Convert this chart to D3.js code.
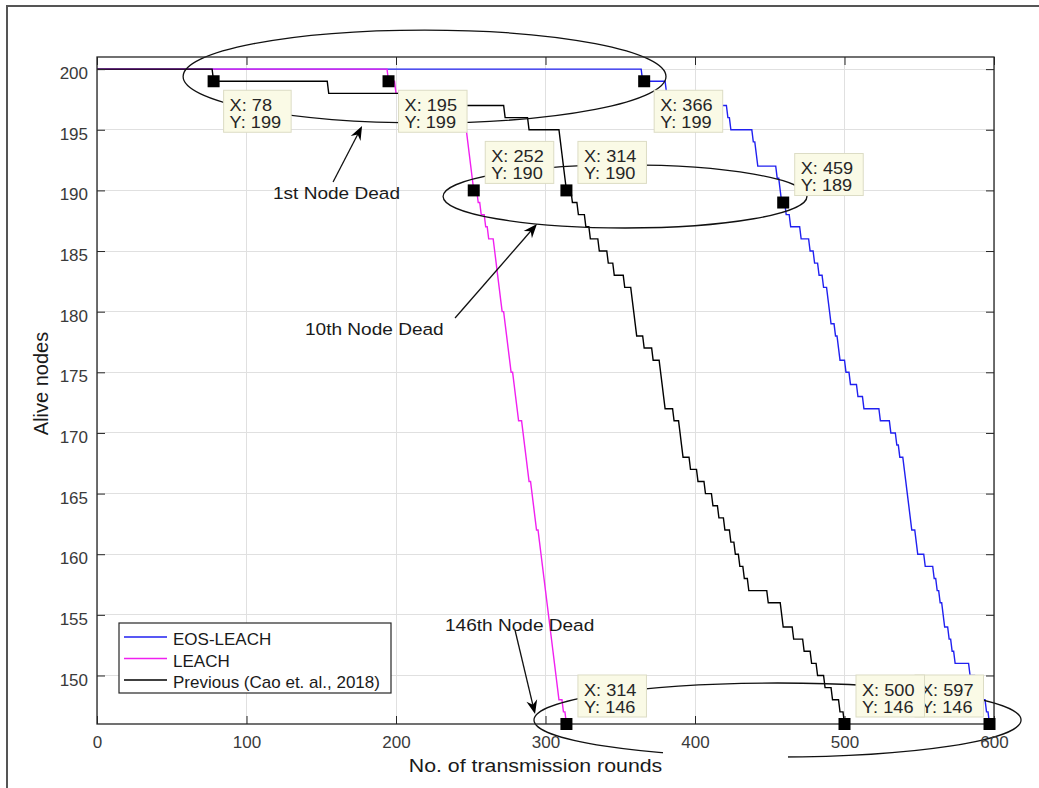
<!DOCTYPE html>
<html>
<head>
  <meta charset="utf-8">
  <title>Alive nodes</title>
  <script src="https://d3js.org/d3.v7.min.js"></script>
  <style>
    body { margin: 0; background: #fff; }
    svg { display: block; font-family: "Liberation Sans", Helvetica, Arial, sans-serif; }
    .grid line { stroke: #e0e0e0; stroke-width: 1; shape-rendering: crispEdges; }
    .axis path { display: none; }
    .axis line { stroke: #262626; stroke-width: 1; }
    .axis text { fill: #3a3a3a; font-size: 17px; }
    .series { fill: none; stroke-width: 1.4; }
    .note { fill: none; stroke: #111; stroke-width: 1.3; }
    .tip rect.box { fill: #fafae6; stroke: #dcdcc4; stroke-width: 1; }
    .tip text { fill: #262626; font-size: 15.8px; }
  </style>
</head>
<body>
<script>

// ---- data ----
var seriesNames = ["EOS-LEACH", "LEACH", "Previous (Cao et. al., 2018)"];
var seriesColors = ["#2020f0", "#f020f0", "#000000"];

// round at which the alive count changes, and the new count
var eosRounds = [0, 365, 381, 400, 422, 424, 439, 441, 442, 455,
                 457, 458, 461, 464, 471, 477, 480, 483, 486, 489,
                 490, 491, 494, 496, 497, 501, 504, 509, 513, 524,
                 531, 535, 537, 540, 541, 542, 543, 544, 545, 548,
                 549, 554, 560, 562, 564, 566, 567, 570, 572, 574,
                 584, 588, 592, 595, 597];
var leachRounds = [0, 195, 200, 220, 238, 246, 248, 249, 250, 251,
                   252, 255, 257, 260, 262, 266, 267, 268, 269, 270,
                   271, 273, 274, 275, 276, 277, 279, 280, 281, 282,
                   285, 286, 287, 288, 289, 291, 292, 293, 294, 296,
                   297, 298, 299, 300, 301, 302, 303, 304, 305, 306,
                   307, 308, 309, 312, 314];
var prevRounds = [0, 78, 155, 230, 273, 289, 310, 311, 312, 313,
                  314, 318, 322, 327, 330, 336, 342, 346, 353, 358,
                  359, 360, 361, 366, 372, 377, 378, 379, 380, 386,
                  390, 391, 392, 397, 402, 407, 412, 416, 420, 424,
                  427, 430, 433, 436, 449, 458, 459, 466, 473, 478,
                  482, 487, 492, 497, 500];
var aliveCounts = [200, 199, 198, 197, 196, 195, 194, 193, 192, 191,
                   190, 189, 188, 187, 186, 185, 184, 183, 182, 181,
                   180, 179, 178, 177, 176, 175, 174, 173, 172, 171,
                   170, 169, 168, 167, 166, 165, 164, 163, 162, 161,
                   160, 159, 158, 157, 156, 155, 154, 153, 152, 151,
                   150, 149, 148, 147, 146];

var xTicks = [0, 100, 200, 300, 400, 500, 600];
var yTicks = [150, 155, 160, 165, 170, 175, 180, 185, 190, 195, 200];

// data tips (drawn in this order; 597 goes under 500)
var tipX = [78, 195, 366, 252, 314, 459, 314, 597, 500];
var tipY = [199, 199, 199, 190, 190, 189, 146, 146, 146];
var tipSide = ["se", "se", "se", "ne", "ne", "ne", "ne", "nw", "ne"];

// annotations, in data units
var noteLabels = ["1st Node Dead", "10th Node Dead", "146th Node Dead"];
var noteLabelX = [160.2, 185.5, 282.7];
var noteLabelY = [189.25, 178.08, 153.67];
var arrowFrom = [[157.9, 190.69], [239.5, 179.48], [279.6, 153.75]];
var arrowTo = [[177.3, 195.31], [294.3, 187.23], [293.0, 146.82]];
var ellCx = [219.1, 353.2, 455.2];
var ellCy = [199.39, 189.5, 146.33];
var ellRx = [161.5, 121.7, 162.9];
var ellRy = [3.83, 2.6, 3.05];

// ---- layout ----
var W = 1039, H = 788;
var mL = 97, mR = 994, mT = 57, mB = 724;

var x = d3.scaleLinear().domain([0, 600]).range([mL, mR]);
var y = d3.scaleLinear().domain([146, 201]).range([mB, mT]);

var svg = d3.select("body").append("svg")
    .attr("width", W)
    .attr("height", H);

// figure frame (only top and left edge fall inside the picture)
svg.append("rect")
    .attr("x", 7).attr("y", 6)
    .attr("width", W).attr("height", H)
    .attr("fill", "none").attr("stroke", "#555").attr("stroke-width", 2);

// grid
var grid = svg.append("g").attr("class", "grid");
grid.selectAll(".gx").data(xTicks).enter().append("line")
    .attr("x1", function(d) { return x(d); }).attr("x2", function(d) { return x(d); })
    .attr("y1", mT).attr("y2", mB);
grid.selectAll(".gy").data(yTicks).enter().append("line")
    .attr("y1", function(d) { return y(d); }).attr("y2", function(d) { return y(d); })
    .attr("x1", mL).attr("x2", mR);

// per-round plot: count stays flat until the round before it changes
function roundPoints(rounds, alive) {
  var pts = [];
  rounds.forEach(function(r, i) {
    if (i > 0 && r - 1 > rounds[i - 1]) pts.push([r - 1, alive[i - 1]]);
    pts.push([r, alive[i]]);
  });
  return pts;
}

var line = d3.line()
    .x(function(d) { return x(d[0]); })
    .y(function(d) { return y(d[1]); });

var allRounds = [eosRounds, leachRounds, prevRounds];
allRounds.forEach(function(rounds, i) {
  svg.append("path")
      .attr("class", "series")
      .attr("stroke", seriesColors[i])
      .attr("d", line(roundPoints(rounds, aliveCounts)));
});

// ellipses
var notes = svg.append("g");
ellCx.forEach(function(cx, i) {
  notes.append("ellipse")
      .attr("class", "note")
      .attr("cx", x(cx))
      .attr("cy", y(ellCy[i]))
      .attr("rx", x(cx + ellRx[i]) - x(cx))
      .attr("ry", y(ellCy[i] - ellRy[i]) - y(ellCy[i]));
});

// arrows
arrowFrom.forEach(function(p, i) {
  var x1 = x(p[0]), y1 = y(p[1]), x2 = x(arrowTo[i][0]), y2 = y(arrowTo[i][1]);
  var ang = Math.atan2(y2 - y1, x2 - x1);
  notes.append("line")
      .attr("x1", x1).attr("y1", y1)
      .attr("x2", x2 - 9 * Math.cos(ang)).attr("y2", y2 - 9 * Math.sin(ang))
      .attr("stroke", "#111").attr("stroke-width", 1.3);
  notes.append("path")
      .attr("d", "M0,0L-14,-5.5L-9.5,0L-14,5.5Z")
      .attr("fill", "#000")
      .attr("transform", "translate(" + x2 + "," + y2 + ") rotate(" + (ang * 180 / Math.PI) + ")");
});

// stretched text helper (the figure's text is wider than plain Helvetica)
function wideText(g, str, px, py, anchor, size, stretch) {
  return g.append("text")
      .attr("transform", "translate(" + px + "," + py + ") scale(" + stretch + ",1)")
      .attr("text-anchor", anchor)
      .style("font-size", size + "px")
      .attr("fill", "#1a1a1a")
      .text(str);
}

noteLabels.forEach(function(t, i) {
  wideText(notes, t, x(noteLabelX[i]), y(noteLabelY[i]), "middle", 16.3, 1.17);
});

// a white patch hides part of the lower ellipse in the original
svg.append("rect")
    .attr("x", x(378.6)).attr("y", y(143.94))
    .attr("width", x(462.2) - x(378.6))
    .attr("height", y(140.8) - y(143.94))
    .attr("fill", "#fff");

// axes: ticks point inward on all four sides
svg.append("g").attr("class", "axis")
    .attr("transform", "translate(0," + mB + ")")
    .call(d3.axisBottom(x).tickValues(xTicks).tickSize(-8).tickPadding(12));
var axL = svg.append("g").attr("class", "axis")
    .attr("transform", "translate(" + mL + ",0)")
    .call(d3.axisLeft(y).tickValues(yTicks).tickSize(-8).tickPadding(9));
axL.selectAll("text").attr("dy", "0.56em");
svg.append("g").attr("class", "axis")
    .attr("transform", "translate(0," + mT + ")")
    .call(d3.axisTop(x).tickValues(xTicks).tickSize(-8).tickFormat(""));
svg.append("g").attr("class", "axis")
    .attr("transform", "translate(" + mR + ",0)")
    .call(d3.axisRight(y).tickValues(yTicks).tickSize(-8).tickFormat(""));

svg.append("rect")
    .attr("x", mL).attr("y", mT)
    .attr("width", mR - mL).attr("height", mB - mT)
    .attr("fill", "none").attr("stroke", "#262626").attr("stroke-width", 1.3);

// axis labels
wideText(svg, "No. of transmission rounds", (mL + mR) / 2 - 10, mB + 48, "middle", 18.7, 1.14);
svg.append("text")
    .attr("transform", "translate(" + 48 + "," + ((mT + mB) / 2 - 7) + ") rotate(-90)")
    .attr("text-anchor", "middle")
    .style("font-size", "20px")
    .attr("fill", "#1a1a1a")
    .text("Alive nodes");

// data tips
var tipStretch = 1.15;
tipX.forEach(function(tx, i) {
  var mx = x(tx), my = y(tipY[i]);
  var g = svg.append("g").attr("class", "tip");
  g.append("rect")
      .attr("x", mx - 6).attr("y", my - 6)
      .attr("width", 12).attr("height", 12)
      .attr("fill", "#000");
  var box = g.append("rect").attr("class", "box");
  var t1 = g.append("text").text("X: " + tx);
  var t2 = g.append("text").text("Y: " + tipY[i]);
  var tw = Math.max(t1.node().getComputedTextLength(), t2.node().getComputedTextLength()) * tipStretch;
  var bw = tw + 16, bh = 42, bx, by;
  if (tipSide[i] === "se") { bx = mx + 10; by = my + 9; }
  else if (tipSide[i] === "ne") { bx = mx + 11.5; by = my - 7 - bh; }
  else { bx = mx - 6 - bw; by = my - 7 - bh; }
  box.attr("x", bx).attr("y", by).attr("width", bw).attr("height", bh);
  t1.attr("transform", "translate(" + (bx + 6) + "," + (by + 20.5) + ") scale(" + tipStretch + ",1)");
  t2.attr("transform", "translate(" + (bx + 6) + "," + (by + 37.5) + ") scale(" + tipStretch + ",1)");
});

// legend
var leg = svg.append("g");
leg.append("rect")
    .attr("x", mL + 22).attr("y", mB - 101)
    .attr("width", 272).attr("height", 70)
    .attr("fill", "#fff").attr("stroke", "#262626").attr("stroke-width", 1.2);
seriesNames.forEach(function(name, i) {
  var ly = mB - 87 + i * 21.5;
  leg.append("line")
      .attr("x1", mL + 27).attr("x2", mL + 70)
      .attr("y1", ly).attr("y2", ly)
      .attr("stroke", seriesColors[i]).attr("stroke-width", 1.3);
  leg.append("text")
      .attr("x", mL + 76).attr("y", ly + 8)
      .style("font-size", "17px")
      .attr("fill", "#1a1a1a")
      .text(name);
});

</script>
</body>
</html>
